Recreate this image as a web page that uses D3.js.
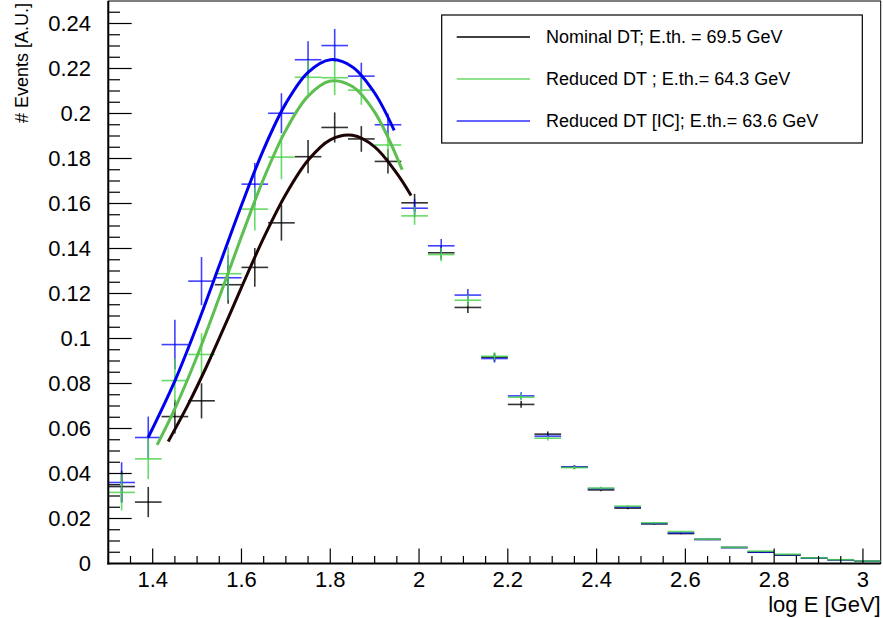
<!DOCTYPE html>
<html>
<head>
<meta charset="utf-8">
<script src="https://cdn.jsdelivr.net/npm/d3@7"></script>
<style>
  html, body { margin: 0; padding: 0; background: #fff; }
  svg { display: block; font-family: "Liberation Sans", Arial, Helvetica, sans-serif; }
</style>
</head>
<body>
<svg id="chart" width="883" height="618"></svg>
<script>
// ---------------- data ----------------
const binCenters = [1.33, 1.39, 1.45, 1.51, 1.57, 1.63, 1.69, 1.75, 1.81, 1.87, 1.93, 1.99,
  2.05, 2.11, 2.17, 2.23, 2.29, 2.35, 2.41, 2.47, 2.53, 2.59, 2.65, 2.71, 2.77, 2.83, 2.89, 2.95, 3.01];
const binHalfWidth = 0.03;

const nominalVals = [0.0342, 0.0273, 0.0653, 0.0723, 0.1239, 0.1316, 0.1514, 0.1808, 0.1938, 0.1887, 0.1787, 0.1603,
  0.1381, 0.1138, 0.0917, 0.0707, 0.0575, 0.0428, 0.0327, 0.0246, 0.0176, 0.0133, 0.0107, 0.0071, 0.0050, 0.0037, 0.0024, 0.0016, 0.0010];
const nominalErrs = [0.0070, 0.0067, 0.0075, 0.0078, 0.0085, 0.0086, 0.0079, 0.0074, 0.0067, 0.0057, 0.0054, 0.0040,
  0.0030, 0.0025, 0.0018, 0.0015, 0.0012, 0.0008, 0.0006, 0.0005, 0.0004, 0.0003, 0.0003, 0.0002, 0.0002, 0.0002, 0.0001, 0.0001, 0.0001];

const reducedVals = [0.0316, 0.0465, 0.0813, 0.0929, 0.1288, 0.1575, 0.1806, 0.2161, 0.2159, 0.2104, 0.1860, 0.1545,
  0.1373, 0.1170, 0.0921, 0.0739, 0.0557, 0.0426, 0.0335, 0.0255, 0.0181, 0.0142, 0.0108, 0.0072, 0.0055, 0.0041, 0.0025, 0.0017, 0.0011];
const reducedErrs = [0.0080, 0.0090, 0.0098, 0.0095, 0.0118, 0.0095, 0.0098, 0.0075, 0.0077, 0.0065, 0.0055, 0.0040,
  0.0030, 0.0025, 0.0018, 0.0015, 0.0011, 0.0008, 0.0006, 0.0005, 0.0004, 0.0003, 0.0003, 0.0002, 0.0002, 0.0002, 0.0001, 0.0001, 0.0001];

const reducedICVals = [0.0360, 0.0560, 0.0973, 0.1255, 0.1270, 0.1686, 0.2001, 0.2239, 0.2302, 0.2166, 0.1950, 0.1579,
  0.1412, 0.1193, 0.0911, 0.0745, 0.0566, 0.0429, 0.0333, 0.0251, 0.0178, 0.0136, 0.0107, 0.0071, 0.0051, 0.0039, 0.0024, 0.0016, 0.0010];
const reducedICErrs = [0.0090, 0.0093, 0.0110, 0.0107, 0.0100, 0.0094, 0.0089, 0.0082, 0.0074, 0.0060, 0.0050, 0.0040,
  0.0030, 0.0027, 0.0018, 0.0016, 0.0011, 0.0008, 0.0006, 0.0005, 0.0004, 0.0003, 0.0003, 0.0002, 0.0002, 0.0002, 0.0001, 0.0001, 0.0001];

// fitted curves, points
const fitNominalX = [1.435, 1.48, 1.52, 1.56, 1.60, 1.65, 1.70, 1.75, 1.80, 1.85, 1.90, 1.95, 1.982];
const fitNominalY = [0.0542, 0.0707, 0.0870, 0.1046, 0.1227, 0.1447, 0.1641, 0.1792, 0.1883, 0.1903, 0.1852, 0.1734, 0.1636];
const fitReducedX = [1.41, 1.45, 1.50, 1.55, 1.60, 1.65, 1.70, 1.75, 1.80, 1.85, 1.90, 1.962];
const fitReducedY = [0.0527, 0.0688, 0.0921, 0.1183, 0.1453, 0.1710, 0.1926, 0.2077, 0.2144, 0.2120, 0.2006, 0.1750];
const fitReducedICX = [1.39, 1.45, 1.50, 1.55, 1.60, 1.65, 1.70, 1.75, 1.80, 1.85, 1.90, 1.944];
const fitReducedICY = [0.0561, 0.0812, 0.1058, 0.1324, 0.1592, 0.1841, 0.2045, 0.2183, 0.2239, 0.2207, 0.2091, 0.1925];

const legendLabels = ["Nominal DT; E.th. = 69.5 GeV", "Reduced DT ; E.th.= 64.3 GeV", "Reduced DT [IC]; E.th.= 63.6 GeV"];
const xTickValues = [1.4, 1.6, 1.8, 2.0, 2.2, 2.4, 2.6, 2.8, 3.0];
const yTickValues = [0, 0.02, 0.04, 0.06, 0.08, 0.1, 0.12, 0.14, 0.16, 0.18, 0.2, 0.22, 0.24];
const xTitle = "log E [GeV]";
const yTitle = "# Events [A.U.]";

// ---------------- layout ----------------
const svg = d3.select("#chart");
const L = 108.3, R = 880.7, T = 1, B = 563.5;
const x = d3.scaleLinear().domain([1.3, 3.04]).range([L, R]);
const y = d3.scaleLinear().domain([0, 0.25]).range([B, T]);

const series = [
  { vals: nominalVals, errs: nominalErrs, color: "#000000", op: 0.8,
    fx: fitNominalX, fy: fitNominalY, fitColor: "#1c0404", legColor: "#000000" },
  { vals: reducedICVals, errs: reducedICErrs, color: "#0000ff", op: 0.75,
    fx: fitReducedICX, fy: fitReducedICY, fitColor: "#0000ee", legColor: "#3030ff" },
  { vals: reducedVals, errs: reducedErrs, color: "#4ed44e", op: 0.85,
    fx: fitReducedX, fy: fitReducedY, fitColor: "#5cbf4f", legColor: "#66dd66" }
];

// frame
svg.append("rect").attr("x", L).attr("y", T).attr("width", R - L).attr("height", B - T)
  .attr("fill", "none").attr("stroke", "#000").attr("stroke-width", 1);

// histograms with error bars
const marks = svg.append("g");
series.forEach(s => {
  const g = marks.append("g").attr("stroke", s.color).attr("stroke-opacity", s.op).attr("stroke-width", 1.6);
  binCenters.forEach((c, i) => {
    g.append("line").attr("x1", x(c - binHalfWidth)).attr("x2", x(c + binHalfWidth))
      .attr("y1", y(s.vals[i])).attr("y2", y(s.vals[i]));
    g.append("line").attr("x1", x(c)).attr("x2", x(c))
      .attr("y1", y(s.vals[i] - s.errs[i])).attr("y2", y(s.vals[i] + s.errs[i]));
  });
});

// fit curves
const curveOrder = [series[0], series[2], series[1]];
curveOrder.forEach(s => {
  const pts = s.fx.map((v, i) => [v, s.fy[i]]);
  const line = d3.line().x(d => x(d[0])).y(d => y(d[1])).curve(d3.curveCatmullRom.alpha(0.5));
  svg.append("path").attr("d", line(pts)).attr("fill", "none")
    .attr("stroke", s.fitColor).attr("stroke-width", 3).attr("stroke-linecap", "butt");
});

// axes
const xAxisG = svg.append("g");
const xMinor = d3.range(1.35, 3.04, 0.05);
xMinor.forEach(v => {
  const major = xTickValues.some(t => Math.abs(t - v) < 1e-6);
  xAxisG.append("line").attr("x1", x(v)).attr("x2", x(v))
    .attr("y1", B).attr("y2", B - (major ? 15 : 7.5)).attr("stroke", "#000").attr("stroke-width", 1.2);
});
xTickValues.forEach(v => {
  xAxisG.append("text").attr("x", x(v)).attr("y", 587).attr("text-anchor", "middle")
    .attr("font-size", 22).text(d3.format("~g")(v));
});
const yAxisG = svg.append("g");
const yMinor = d3.range(0.005, 0.2499, 0.005);
yMinor.forEach(v => {
  const major = yTickValues.some(t => Math.abs(t - v) < 1e-6);
  yAxisG.append("line").attr("x1", L).attr("x2", L + (major ? 23.4 : 11.7))
    .attr("y1", y(v)).attr("y2", y(v)).attr("stroke", "#000").attr("stroke-width", 1.2);
});
yTickValues.forEach(v => {
  yAxisG.append("text").attr("x", 91).attr("y", y(v) + 7.9).attr("text-anchor", "end")
    .attr("font-size", 22).text(d3.format("~g")(v));
});
// axis lines (thicker)
svg.append("line").attr("x1", L).attr("x2", L).attr("y1", T).attr("y2", B + 1)
  .attr("stroke", "#000").attr("stroke-width", 2);
svg.append("line").attr("x1", L - 1).attr("x2", R).attr("y1", B).attr("y2", B)
  .attr("stroke", "#000").attr("stroke-width", 2);

// titles
svg.append("text").attr("x", R).attr("y", 612).attr("text-anchor", "end")
  .attr("font-size", 22).text(xTitle);
svg.append("text").attr("transform", "translate(28,3) rotate(-90)").attr("text-anchor", "end")
  .attr("font-size", 18).text(yTitle);

// legend
const leg = svg.append("g");
leg.append("rect").attr("x", 441.7).attr("y", 15).attr("width", 862.3 - 441.7).attr("height", 128)
  .attr("fill", "#fff").attr("stroke", "#000").attr("stroke-width", 1.2);
const legY = [37, 79, 121];
const legSeries = [series[0], series[2], series[1]];
legSeries.forEach((s, i) => {
  leg.append("line").attr("x1", 456.7).attr("x2", 530).attr("y1", legY[i]).attr("y2", legY[i])
    .attr("stroke", s.legColor).attr("stroke-width", 1.3);
  leg.append("text").attr("x", 546).attr("y", legY[i] + 6.4).attr("font-size", 18).text(legendLabels[i]);
});
</script>
</body>
</html>
